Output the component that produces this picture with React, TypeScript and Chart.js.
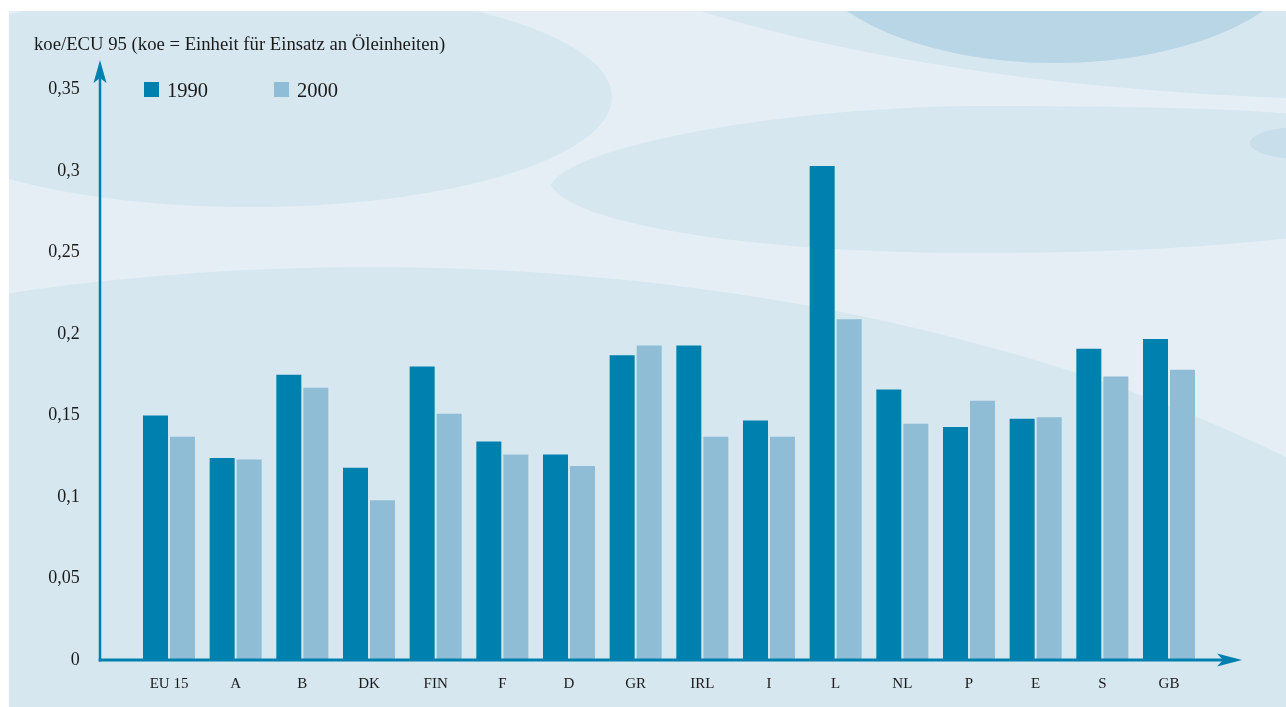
import { useEffect, useRef } from 'react';
import { Chart, registerables } from 'chart.js';

Chart.register(...registerables);

const categories = ['EU 15', 'A', 'B', 'DK', 'FIN', 'F', 'D', 'GR', 'IRL', 'I', 'L', 'NL', 'P', 'E', 'S', 'GB'];
const values1990 = [0.150, 0.124, 0.175, 0.118, 0.180, 0.134, 0.126, 0.187, 0.193, 0.147, 0.303, 0.166, 0.143, 0.148, 0.191, 0.197];
const values2000 = [0.137, 0.123, 0.167, 0.098, 0.151, 0.126, 0.119, 0.193, 0.137, 0.137, 0.209, 0.145, 0.159, 0.149, 0.174, 0.178];
const seriesLabels = ['1990', '2000'];
const yMin = 0;
const yMax = 0.35;
const yStep = 0.05;
const yAxisTitle = 'koe/ECU 95 (koe = Einheit für Einsatz an Öleinheiten)';

const W = 1286;
const H = 707;
const DARK = '#0080AE';
const LIGHT_BAR = '#8FBDD6';
const BG_BASE = '#D6E7F0';
const BG_LIGHT = '#E5EEF5';
const TEXT = '#1a1a1a';
const FONT = "'Liberation Serif', 'Times New Roman', serif";

function fmtTick(v: number): string {
  if (Math.abs(v) < 1e-9) return '0';
  return parseFloat(v.toFixed(2)).toString().replace('.', ',');
}

const backgroundPlugin = {
  id: 'bgDecor',
  beforeDraw(chart: any) {
    const ctx = chart.ctx as CanvasRenderingContext2D;
    ctx.save();
    ctx.fillStyle = '#ffffff';
    ctx.fillRect(0, 0, W, H);
    ctx.beginPath();
    ctx.rect(9, 11, W - 9, H - 11);
    ctx.clip();
    ctx.fillStyle = BG_LIGHT;
    ctx.fillRect(9, 11, W - 9, H - 11);
    const ell = (cx: number, cy: number, rx: number, ry: number, color: string) => {
      ctx.beginPath();
      ctx.ellipse(cx, cy, rx, ry, 0, 0, Math.PI * 2);
      ctx.fillStyle = color;
      ctx.fill();
    };
    ell(250, 97, 362, 110, BG_BASE);
    ell(1400, -200, 984, 300, BG_BASE);
    // middle-right band
    ctx.beginPath();
    ctx.moveTo(551, 185);
    ctx.bezierCurveTo(565, 150, 760, 108, 976, 106);
    ctx.bezierCurveTo(1120, 106, 1230, 108, 1290, 114);
    ctx.lineTo(1290, 238);
    ctx.bezierCurveTo(1200, 248, 1100, 253, 972, 253);
    ctx.bezierCurveTo(760, 253, 570, 225, 551, 185);
    ctx.closePath();
    ctx.fillStyle = BG_BASE;
    ctx.fill();
    ell(370, 1000, 1364, 733, BG_BASE);
    ell(1055, -60, 255, 123, '#B8D6E6');
    ell(1300, 143, 50, 16, '#C9DEEB');
    ctx.restore();
  },
};

const overlayPlugin = {
  id: 'overlay',
  afterDraw(chart: any) {
    const ctx = chart.ctx as CanvasRenderingContext2D;
    const y0 = chart.scales.y.getPixelForValue(0);
    const axisX = 100;
    ctx.save();
    ctx.strokeStyle = DARK;
    ctx.fillStyle = DARK;
    // y axis
    ctx.lineWidth = 2.5;
    ctx.beginPath();
    ctx.moveTo(axisX, y0 + 1.5);
    ctx.lineTo(axisX, 76);
    ctx.stroke();
    ctx.beginPath();
    ctx.moveTo(axisX, 60);
    ctx.lineTo(axisX + 6.5, 83);
    ctx.lineTo(axisX, 78);
    ctx.lineTo(axisX - 6.5, 83);
    ctx.closePath();
    ctx.fill();
    // x axis
    ctx.lineWidth = 3;
    ctx.beginPath();
    ctx.moveTo(axisX - 1.25, y0);
    ctx.lineTo(1226, y0);
    ctx.stroke();
    ctx.beginPath();
    ctx.moveTo(1242, y0);
    ctx.lineTo(1217, y0 - 6.5);
    ctx.lineTo(1223, y0);
    ctx.lineTo(1217, y0 + 6.5);
    ctx.closePath();
    ctx.fill();

    // title
    ctx.fillStyle = TEXT;
    ctx.font = `18.7px ${FONT}`;
    ctx.textAlign = 'left';
    ctx.textBaseline = 'alphabetic';
    ctx.fillText(yAxisTitle, 34, 50);

    // legend
    const legendX = [144, 274];
    chart.data.datasets.forEach((ds: any, i: number) => {
      ctx.fillStyle = ds.backgroundColor;
      ctx.fillRect(legendX[i], 82, 15, 15);
      ctx.fillStyle = TEXT;
      ctx.font = `20.5px ${FONT}`;
      ctx.fillText(ds.label, legendX[i] + 23, 97);
    });
    ctx.restore();
  },
};

export default function App() {
  const ref = useRef<HTMLCanvasElement>(null);
  useEffect(() => {
    document.body.style.margin = '0';
    const canvas = ref.current!;
    const chart = new Chart(canvas, {
      type: 'bar',
      data: {
        labels: categories,
        datasets: [
          { label: seriesLabels[0], data: values1990, backgroundColor: DARK, borderWidth: 0 },
          { label: seriesLabels[1], data: values2000, backgroundColor: LIGHT_BAR, borderWidth: 0 },
        ],
      },
      options: {
        responsive: false,
        animation: false,
        devicePixelRatio: 1,
        datasets: { bar: { categoryPercentage: 0.81, barPercentage: 0.926 } },
        layout: { padding: { left: 0, right: 83.67, top: 89.5, bottom: 0 } },
        plugins: {
          legend: { display: false },
          tooltip: { enabled: false },
          title: { display: false },
        },
        scales: {
          x: {
            offset: true,
            grid: { display: false, drawTicks: false },
            border: { display: false },
            ticks: {
              autoSkip: false,
              maxRotation: 0,
              padding: 15,
              color: TEXT,
              font: { family: FONT, size: 15 },
            },
            afterFit(scale: any) {
              scale.height = 47;
            },
          },
          y: {
            min: yMin,
            max: yMax,
            grid: { display: false, drawTicks: false },
            border: { display: false },
            ticks: {
              stepSize: yStep,
              padding: 56,
              color: TEXT,
              font: { family: FONT, size: 18 },
              callback: (v: any) => fmtTick(Number(v)),
            },
            afterFit(scale: any) {
              scale.width = 135.67;
              scale.paddingTop = 0;
              scale.paddingBottom = 0;
            },
          },
        },
      },
      plugins: [backgroundPlugin, overlayPlugin],
    });
    return () => chart.destroy();
  }, []);
  return (
    <div style={{ width: W, height: H }}>
      <canvas ref={ref} width={W} height={H} style={{ display: 'block' }} />
    </div>
  );
}
